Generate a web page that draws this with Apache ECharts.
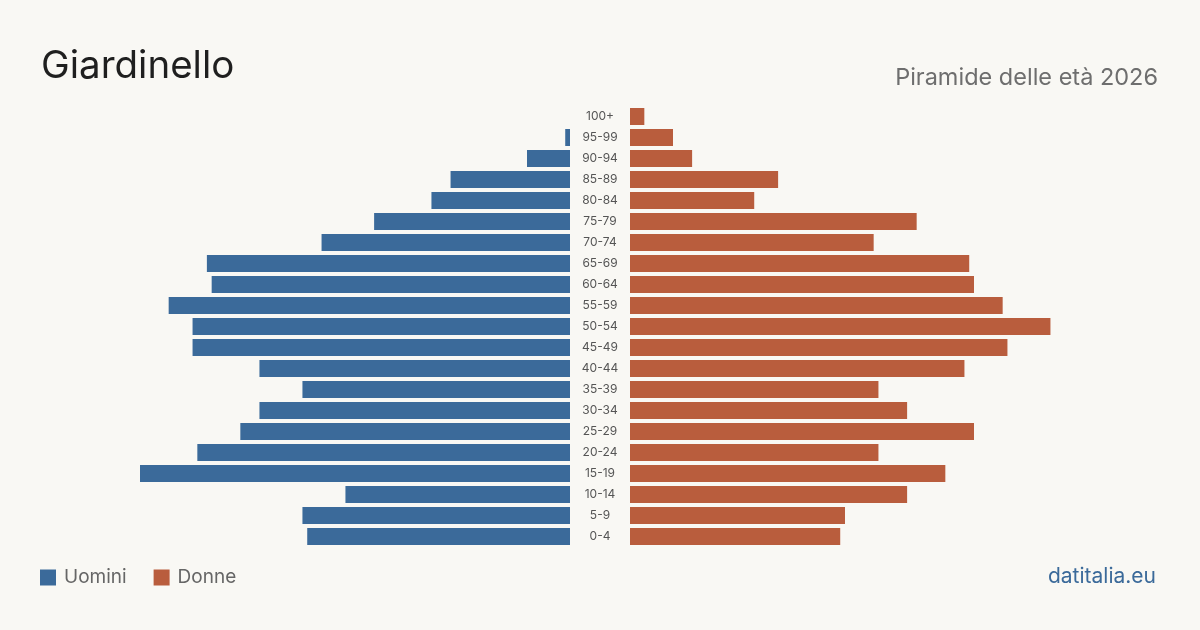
<!DOCTYPE html>
<html>
<head>
<meta charset="utf-8">
<script src="https://cdn.jsdelivr.net/npm/echarts@6/dist/echarts.min.js"></script>
<style>
  html, body { margin: 0; padding: 0; background: #f9f8f4; }
  #chart { width: 1200px; height: 630px; }
</style>
</head>
<body>
<div id="chart"></div>
<script>
  // fasce d'età dal basso verso l'alto
  const ages = ['0-4', '5-9', '10-14', '15-19', '20-24', '25-29', '30-34', '35-39', '40-44', '45-49',
    '50-54', '55-59', '60-64', '65-69', '70-74', '75-79', '80-84', '85-89', '90-94', '95-99', '100+']
  const uomini = [55, 56, 47, 90, 78, 69, 65, 56, 65, 79, 79, 84, 75, 76, 52, 41, 29, 25, 9, 1, 0]
  const donne = [44, 45, 58, 66, 52, 72, 58, 52, 70, 79, 88, 78, 72, 71, 51, 60, 26, 31, 13, 9, 3]
  const maxVal = 90

  const chart = echarts.init(document.getElementById('chart'))
  const font = 'Inter, "Noto Sans", sans-serif'

  const option = {
    backgroundColor: '#f9f8f4',
    animation: false,
    textStyle: { fontFamily: font },
    title: [
      { text: 'Giardinello', left: 36, top: 42,
        textStyle: { fontSize: 38.5, fontWeight: 'normal', color: '#1f1f1f', fontFamily: font } },
      { text: 'Piramide delle età 2026', right: 37, top: 61,
        textStyle: { fontSize: 23.5, fontWeight: 'normal', color: '#6e6e6e', fontFamily: font } },
      { text: 'datitalia.eu', right: 39, top: 561,
        textStyle: { fontSize: 21, fontWeight: 'normal', color: '#3b6a9a', fontFamily: font } }
    ],
    legend: {
      left: 40, top: 568, padding: 0,
      icon: 'rect', itemWidth: 16, itemHeight: 16, itemGap: 27,
      textStyle: { fontSize: 19, color: '#666', fontFamily: font, padding: [0, 0, 0, 3] },
      data: ['Uomini', 'Donne']
    },
    grid: [
      { left: 140, top: 106, width: 430, height: 441 },
      { left: 630, top: 106, width: 430, height: 441 }
    ],
    xAxis: [
      { type: 'value', gridIndex: 0, min: 0, max: maxVal, inverse: true, show: false },
      { type: 'value', gridIndex: 1, min: 0, max: maxVal, show: false }
    ],
    yAxis: [
      { type: 'category', gridIndex: 0, data: ages, position: 'right',
        axisLine: { show: false }, axisTick: { show: false },
        axisLabel: { align: 'center', margin: 30, fontSize: 12, color: '#555', fontFamily: font } },
      { type: 'category', gridIndex: 1, data: ages, show: false }
    ],
    series: [
      { name: 'Uomini', type: 'bar', xAxisIndex: 0, yAxisIndex: 0, data: uomini,
        barWidth: 17, itemStyle: { color: '#3b6a9a' } },
      { name: 'Donne', type: 'bar', xAxisIndex: 1, yAxisIndex: 1, data: donne,
        barWidth: 17, itemStyle: { color: '#b95d3d' } }
    ]
  }
  chart.setOption(option)
</script>
</body>
</html>
